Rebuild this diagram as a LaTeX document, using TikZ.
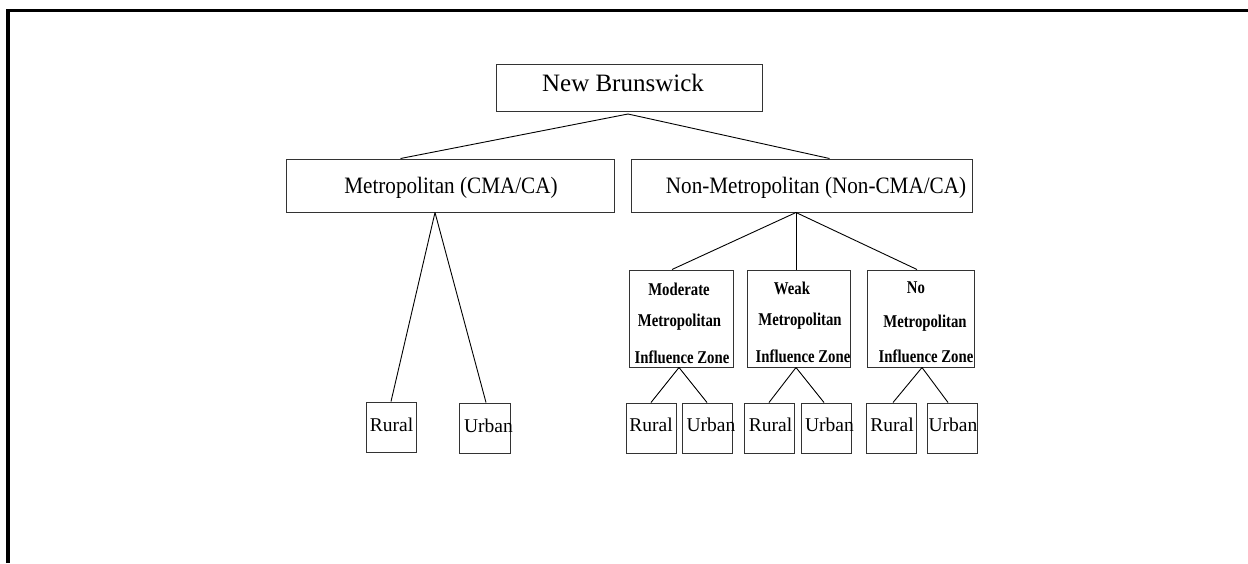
\documentclass[tikz,border=0pt]{standalone}
\usepackage{fontspec}
\setmainfont{Liberation Serif}
\newfontfamily\condfont[FakeStretch=0.82]{Liberation Serif}
\newfontfamily\midfont[FakeStretch=0.9]{Liberation Serif}
\begin{document}
\begin{tikzpicture}[x=1pt,y=-1pt,
  box/.style={draw=black!80,line width=1pt,rectangle,inner sep=0pt,minimum width=#1},
  box/.default=50pt,
  lbl/.style={inner sep=0pt,anchor=base,font=\midfont\fontsize{23.5}{23.5}\selectfont},
  small/.style={inner sep=0pt,anchor=base,font=\fontsize{19.5}{19.5}\selectfont},
  zone/.style={inner sep=0pt,anchor=base,font=\condfont\bfseries\fontsize{18}{18}\selectfont},
  conn/.style={draw=black,line width=0.9pt}]
\useasboundingbox (0,0) rectangle (1248,563);
% frame
\draw[line width=3.3pt] (8,563) -- (8,10.5) -- (1248,10.5);
% boxes
\node[box=266pt,minimum height=47pt] (nb) at (629,87.5) {};
\node[box=328pt,minimum height=53pt] (metro) at (450,185.5) {};
\node[box=341pt,minimum height=53pt] (nonmetro) at (801.5,185.5) {};
\node[box=104pt,minimum height=97pt] (mod) at (681,318.5) {};
\node[box=103pt,minimum height=97pt] (weak) at (798.5,318.5) {};
\node[box=107pt,minimum height=97pt] (nomi) at (920.5,318.5) {};
\node[box=50pt,minimum height=50pt] (ruralA) at (391,427) {};
\node[box=51pt,minimum height=50pt] (urbanA) at (484.5,428) {};
\node[box=50pt,minimum height=50pt] (r1) at (651,428) {};
\node[box=50pt,minimum height=50pt] (u1) at (707,428) {};
\node[box=50pt,minimum height=50pt] (r2) at (769,428) {};
\node[box=50pt,minimum height=50pt] (u2) at (826,428) {};
\node[box=50pt,minimum height=50pt] (r3) at (891,428) {};
\node[box=50pt,minimum height=50pt] (u3) at (952,428) {};
% texts
\node[lbl,font=\fontsize{25}{25}\selectfont] (tnb) at (623,91.7) {New Brunswick};
\node[lbl] (tmetro) at (451,193.3) {Metropolitan (CMA/CA)};
\node[lbl] (tnonmetro) at (816,193.3) {Non-Metropolitan (Non-CMA/CA)};
\node[zone] (tm1) at (679,295) {Moderate};
\node[zone] (tm2) at (679.5,326.7) {Metropolitan};
\node[zone] (tm3) at (682,363) {Influence Zone};
\node[zone] (tw1) at (792,294) {Weak};
\node[zone] (tw2) at (800,325.5) {Metropolitan};
\node[zone] (tw3) at (803,362.5) {Influence Zone};
\node[zone] (tn1) at (916,293.5) {No};
\node[zone] (tn2) at (925,327) {Metropolitan};
\node[zone] (tn3) at (926,362.5) {Influence Zone};
\node[small] (truralA) at (391.5,431.7) {Rural};
\node[small] (turbanA) at (488.5,432.7) {Urban};
\node[small] (tr1) at (651,431.7) {Rural};
\node[small] (tu1) at (711,431.7) {Urban};
\node[small] (tr2) at (770.5,431.7) {Rural};
\node[small] (tu2) at (829.5,431.7) {Urban};
\node[small] (tr3) at (892,431.7) {Rural};
\node[small] (tu3) at (953,431.7) {Urban};
% connectors
\coordinate (nbj) at ([xshift=-1pt,yshift=-2.5pt]nb.south);
\draw[conn] (nbj) -- ([xshift=115pt]metro.north west);
\draw[conn] (nbj) -- ([xshift=199pt]nonmetro.north west);
\draw[conn] ([xshift=-15pt]metro.south) -- (ruralA.north);
\draw[conn] ([xshift=-15pt]metro.south) -- ([xshift=1.5pt]urbanA.north);
\draw[conn] ([xshift=-5.5pt]nonmetro.south) -- ([xshift=-9pt]mod.north);
\draw[conn] ([xshift=-5.5pt]nonmetro.south) -- ([xshift=-2.5pt]weak.north);
\draw[conn] ([xshift=-5.5pt]nonmetro.south) -- ([xshift=-3.5pt]nomi.north);
\draw[conn] ([xshift=-2pt]mod.south) -- (r1.north);
\draw[conn] ([xshift=-2pt]mod.south) -- (u1.north);
\draw[conn] ([xshift=-2.5pt]weak.south) -- (r2.north);
\draw[conn] ([xshift=-2.5pt]weak.south) -- ([xshift=-2pt]u2.north);
\draw[conn] ([xshift=1.5pt]nomi.south) -- ([xshift=2pt]r3.north);
\draw[conn] ([xshift=1.5pt]nomi.south) -- ([xshift=-4pt]u3.north);
\end{tikzpicture}
\end{document}
